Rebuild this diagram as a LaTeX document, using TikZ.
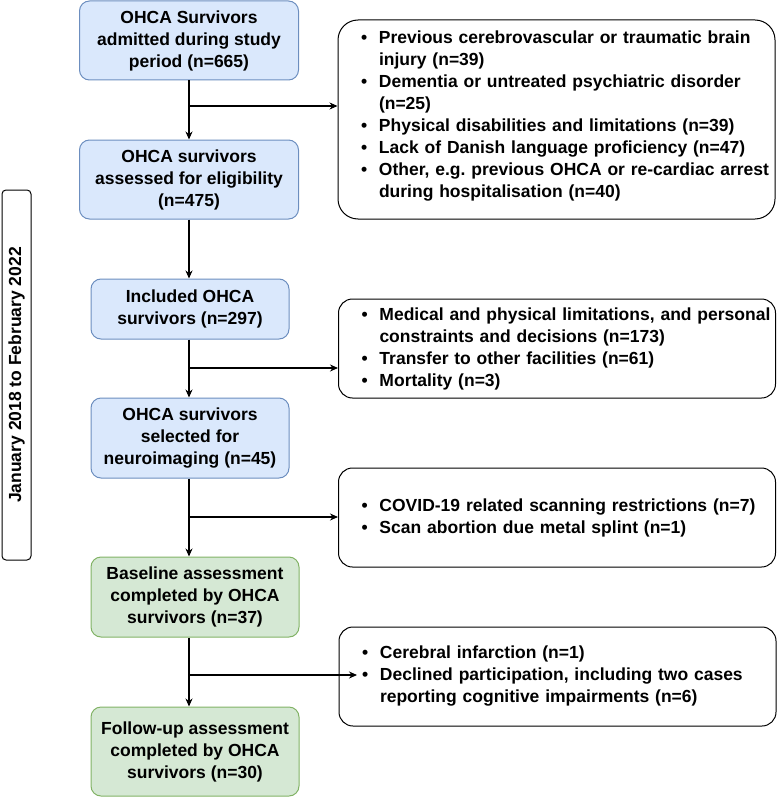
\documentclass[tikz,border=0pt]{standalone}
\usepackage{fontspec}
\setmainfont{Liberation Sans}
\usetikzlibrary{arrows.meta}
\definecolor{blueFill}{HTML}{DAE8FC}
\definecolor{blueLine}{HTML}{6C8EBF}
\definecolor{greenFill}{HTML}{D5E8D4}
\definecolor{greenLine}{HTML}{82B366}
\newcommand{\bitem}[1]{\mbox{\makebox[18pt][l]{\textbullet}#1}}
\newcommand{\bcont}[1]{\mbox{\hspace*{18pt}#1}}
\frenchspacing

\begin{document}
\begin{tikzpicture}[x=1pt,y=-1pt,-,>={Stealth[length=8pt,width=7pt]},line width=1pt,
  every node/.style={font=\bfseries\fontsize{17.5}{22}\selectfont},
  flow/.style={->,line width=1.1pt},
  blue node/.style={rectangle,rounded corners=10pt,draw=blueLine,fill=blueFill,align=center},
  green node/.style={rectangle,rounded corners=10pt,draw=greenLine,fill=greenFill,align=center},
  side node/.style={rectangle,rounded corners=14pt,draw,fill=white,align=left,inner xsep=23pt,text width=391pt,minimum height=99pt},
  date node/.style={rectangle,rounded corners=4pt,draw,minimum width=370pt,minimum height=29pt}]
    \useasboundingbox (0,0) rectangle (777,797);

    % left column
    \node[blue node,minimum width=219pt,minimum height=79pt] (1) at (189,40.5) {OHCA Survivors\\admitted during study\\period (n=665)};
    \node[blue node,minimum width=219pt,minimum height=79pt] (2) at (189,179.5) {OHCA survivors\\assessed for eligibility\\(n=475)};
    \node[blue node,minimum width=198pt,minimum height=60pt] (3) at (190,309) {Included OHCA\\survivors (n=297)};
    \node[blue node,minimum width=198pt,minimum height=80pt] (4) at (190,438) {OHCA survivors\\selected for\\neuroimaging (n=45)};
    \node[green node,minimum width=208pt,minimum height=80pt] (5) at (195,597) {Baseline assessment\\completed by OHCA\\survivors (n=37)};
    \node[green node,minimum width=208pt,minimum height=89pt] (6) at (195,751.5) {Follow-up assessment\\completed by OHCA\\survivors (n=30)};

    % exclusion boxes
    \node[side node,minimum height=199pt,rounded corners=20pt] (r1) at (556.5,119.5) {%
      \bitem{Previous cerebrovascular or traumatic brain}\\
      \bcont{injury (n=39)}\\
      \bitem{Dementia or untreated psychiatric disorder}\\
      \bcont{(n=25)}\\
      \bitem{Physical disabilities and limitations (n=39)}\\
      \bitem{Lack of Danish language proficiency (n=47)}\\
      \bitem{Other, e.g. previous OHCA or re-cardiac arrest}\\
      \bcont{during hospitalisation (n=40)}\\[-12pt]
      \mbox{}};
    \node[side node] (r2) at (557,348.5) {%
      \bitem{Medical and physical limitations, and personal}\\
      \bcont{constraints and decisions (n=173)}\\
      \bitem{Transfer to other facilities (n=61)}\\
      \bitem{Mortality (n=3)}};
    \node[side node] (r3) at (557,517.5) {%
      \bitem{COVID-19 related scanning restrictions (n=7)}\\
      \bitem{Scan abortion due metal splint (n=1)}};
    \node[side node] (r4) at (557.5,676.5) {%
      \bitem{Cerebral infarction (n=1)}\\
      \bitem{Declined participation, including two cases}\\
      \bcont{reporting cognitive impairments (n=6)}};

    % study period
    \node[date node,rotate=90] (period) at (16.5,375) {January 2018 to February 2022};

    % junctions
    \coordinate (j1) at (189,106);
    \coordinate (j2) at (189,368);
    \coordinate (j3) at (189,517);
    \coordinate (j4) at (189,675);
    \coordinate (e4) at (357,675);

    \draw[flow] (1.south -| j1) -- (2.north -| j1);
    \draw[flow] (2.south -| j1) -- (3.north -| j1);
    \draw[flow] (3.south -| j1) -- (4.north -| j1);
    \draw[flow] (4.south -| j1) -- (5.north -| j1);
    \draw[flow] (5.south -| j1) -- (6.north -| j1);
    \draw[flow] (j1) -- (j1 -| r1.west);
    \draw[flow] (j2) -- (j2 -| r2.west);
    \draw[flow] (j3) -- (j3 -| r3.west);
    \draw[flow] (j4) -- (e4);
\end{tikzpicture}
\end{document}
